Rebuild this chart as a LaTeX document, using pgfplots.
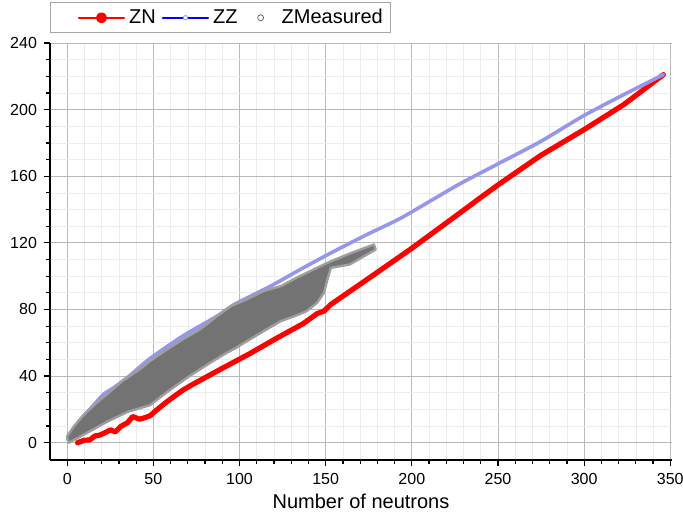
\documentclass[border=0pt]{standalone}
\usepackage{fontspec}
\setmainfont{Liberation Sans}
\usepackage{pgfplots}
\usepackage{pgfplotstable}
\pgfplotsset{compat=1.18}

% ZN series
\pgfplotstableread{
N Z
6 0
10 1.5
13 1.6
16 4
19 4.6
22 6
25 7.7
28 6.5
31 9.7
35 12
38 15.7
42 14.1
45 15
48 16.1
52 19.7
58 24.7
67 31.5
72 34.5
87 43
106 53.5
122 63
137 71.5
145 77.5
149 79
153 83
174 98
199 116
228 138
239 146.5
251 155.5
275 172.6
300 188
323 203
346 221
}\zn

% ZZ series
\pgfplotstableread{
N Z
1 2
3 6
7 13
14 21
21 29
27 33
36 40
48 50.5
67 64
87 76
97 83
118 94
137 105
155 115
174 125
193 134.5
213 146.5
228 155.5
252 168.5
275 181
300 196.5
323 209
346 221
}\zz

% outline of the measured nuclides (upper edge, then lower edge back)
\pgfplotstableread{
N Z
0 4
4 10
9 16
16 23
23 29
32 37
42 44
48 49
58 56
67 62
77 68
87 76
95 82
104 86
114 91
124 94
133 99
143 104
151 108
165 114
178 119
179 116
164 107
153 105
151 98
149 90
145 84
139 79
132 76
124 73
114 67
106 62
98 57
91 53
83 48
71 40
60 32
48 22.5
35 18.5
23 12.5
9 4.5
1 0
0 2
}\zmeas

\begin{document}
\begin{tikzpicture}
\useasboundingbox (-25pt,-26.5pt) rectangle (316.5pt,230pt);
\begin{axis}[
  at={(0,0)}, anchor=south west,
  width=311pt, height=208.5pt, scale only axis,
  xmin=-10, xmax=351, ymin=-10.4, ymax=240,
  axis x line*=bottom, axis y line*=left,
  axis line style={black, line width=0.8pt},
  xtick={0,50,...,350}, ytick={0,40,...,240},
  minor x tick num=4, minor y tick num=3,
  tick align=outside,
  major tick length=3pt, minor tick length=2pt,
  tick style={black, line width=0.6pt},
  grid=both,
  major grid style={gray!55, line width=0.4pt},
  minor grid style={gray!15, line width=0.3pt},
  tick label style={font=\fontsize{8}{9}\selectfont},
  /pgf/number format/assume math mode=true,
  xlabel={Number of neutrons},
  xlabel style={font=\fontsize{10}{12}\selectfont, yshift=2pt},
  legend columns=3,
  legend cell align=left,
  legend style={at={(0,1)}, anchor=south west, yshift=5pt,
    draw=gray!70, line width=0.5pt,
    font=\fontsize{10}{12}\selectfont,
    inner xsep=2pt, inner ysep=1pt,
    /tikz/every even column/.append style={column sep=1pt}},
]
\addplot[red, line width=2.6pt, line join=round, line cap=round,
  legend image code/.code={
    \path (-0.38cm,0cm);
    \draw[red, line width=0.9pt] (0cm,0cm) -- (0.8cm,0cm);
    \fill[red] (0.4cm,0cm) circle (1.4pt);}]
  table {\zn};

\addplot[color={rgb,255:red,150;green,150;blue,235}, line width=1.8pt,
  smooth, tension=0.4, line join=round, line cap=round,
  legend image code/.code={
    \draw[blue, line width=0.9pt] (0cm,0cm) -- (0.8cm,0cm);
    \draw[blue!45, fill=white, line width=0.4pt] (0.4cm,0cm) circle (1.1pt);}]
  table {\zz};

\addplot[fill=black!55, draw=black!38, line width=1.2pt, line join=round,
  legend image code/.code={
    \path[fill=none, draw=none] (0cm,0cm) (0.6cm,0cm);
    \draw[draw=black!60, fill=white, line width=0.4pt] (0.3cm,0cm) circle (1.5pt);}]
  table {\zmeas} -- cycle;

\legend{ZN,ZZ,ZMeasured}
\end{axis}
\end{tikzpicture}
\end{document}
